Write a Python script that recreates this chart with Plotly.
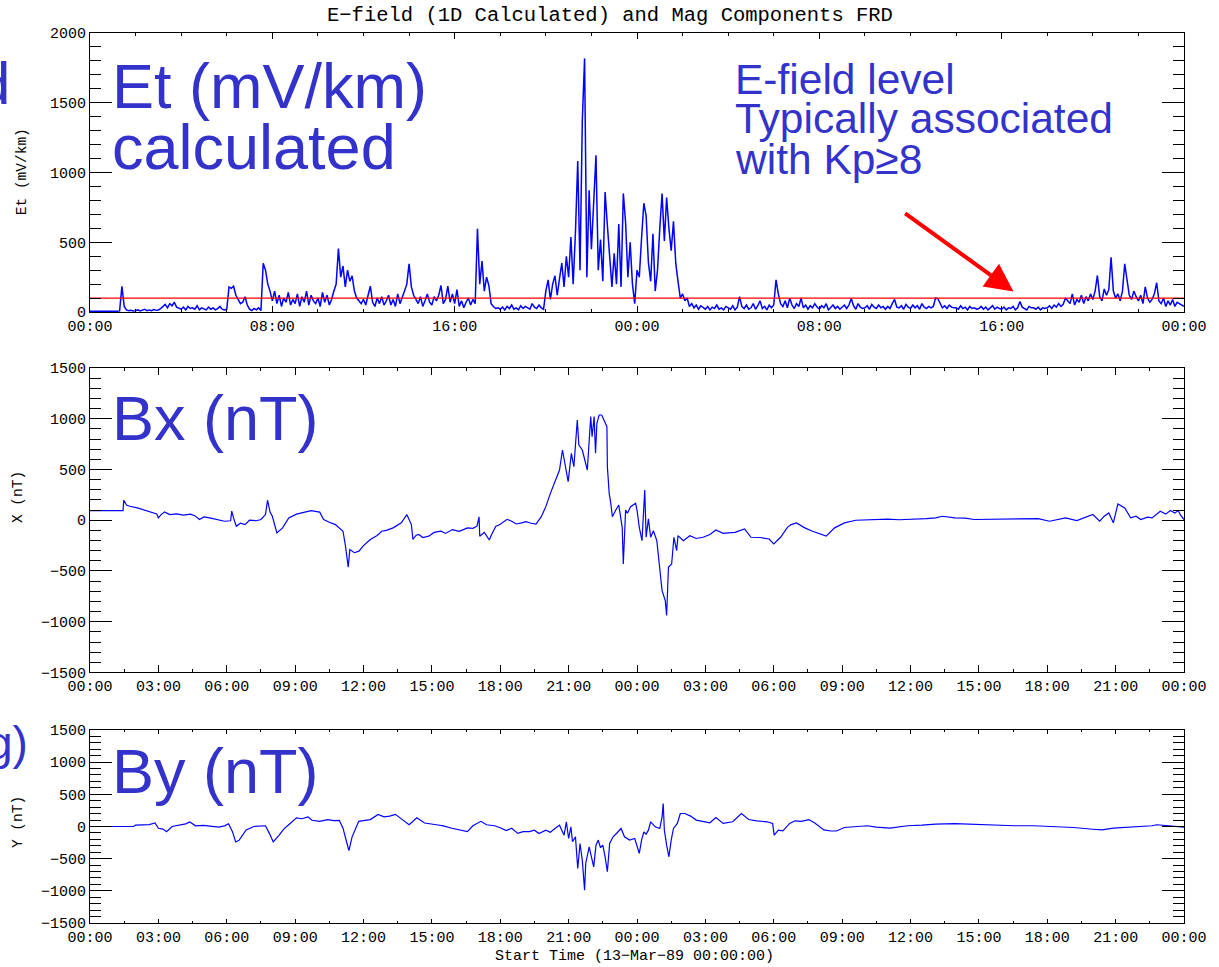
import numpy as np
import pandas as pd
import plotly.graph_objects as go

# ---------------- data ----------------
START = pd.Timestamp("1989-03-13 00:00:00")
SPAN_HOURS = 48

# Et (mV/km), one row per hour, 6-minute samples
et_step_hours = 0.1
et_values = [
    5, 4, 6, 5, 4, 5, 6, 5, 4, 5,            # 00h
    5, 5, 6, 8, 185, 40, 15, 10, 12, 8,      # 01h
    10, 15, 8, 12, 20, 10, 14, 9, 18, 12,    # 02h
    15, 25, 40, 55, 30, 60, 45, 70, 35, 25,  # 03h
    20, 35, 15, 40, 25, 30, 20, 45, 15, 30,  # 04h
    25, 15, 35, 20, 30, 15, 25, 40, 20, 15,  # 05h
    20, 180, 170, 185, 120, 90, 60, 70, 110, 50,  # 06h
    20, 10, 25, 15, 30, 10, 350, 300, 200, 150,   # 07h
    80, 150, 60, 120, 40, 100, 70, 140, 50, 90,   # 08h
    60, 130, 40, 110, 70, 150, 50, 120, 80, 60,   # 09h
    100, 40, 140, 70, 120, 50, 90, 150, 200, 455, # 10h
    250, 330, 180, 300, 220, 260, 150, 100, 80, 60,  # 11h
    90, 50, 120, 185, 70, 40, 100, 60, 110, 50,   # 12h
    80, 120, 50, 90, 40, 130, 60, 100, 150, 200,  # 13h
    345, 180, 120, 90, 60, 110, 40, 80, 130, 70,  # 14h
    50, 110, 80, 120, 190, 60, 90, 185, 70, 130,  # 15h
    60, 160, 40, 80, 30, 70, 100, 50, 90, 60,     # 16h
    597, 200, 365, 150, 250, 190, 60, 40, 25, 30, # 17h
    20, 35, 15, 40, 25, 50, 20, 30, 15, 45,       # 18h
    25, 40, 30, 20, 60, 35, 25, 50, 30, 20,       # 19h
    150, 230, 90, 200, 260, 120, 240, 350, 180, 400,       # 20h
    250, 537, 200, 573, 1083, 300, 1370, 1818, 250, 872,   # 21h
    450, 850, 1124, 300, 520, 220, 860, 620, 370, 180,     # 22h
    420, 200, 630, 180, 850, 640, 250, 500, 200, 60,       # 23h
    300, 250, 530, 780, 690, 355, 220, 560, 150, 300,      # 00h
    600, 850, 510, 820, 600, 440, 650, 350, 220, 100,      # 01h
    130, 80, 100, 40, 60, 30, 50, 20, 45, 30,     # 02h
    20, 40, 15, 35, 25, 50, 20, 30, 15, 40,       # 03h
    30, 20, 45, 15, 35, 110, 40, 25, 50, 20,      # 04h
    30, 60, 20, 45, 80, 25, 40, 15, 50, 30,       # 05h
    50, 230, 130, 60, 40, 80, 30, 100, 50, 25,    # 06h
    60, 40, 100, 30, 50, 20, 45, 30, 60, 35,      # 07h
    20, 45, 30, 60, 15, 35, 50, 25, 40, 20,       # 08h
    35, 50, 25, 50, 97, 45, 20, 60, 35, 25,       # 09h
    30, 45, 20, 55, 35, 25, 50, 30, 40, 20,       # 10h
    40, 25, 60, 90, 35, 30, 45, 20, 55, 35,       # 11h
    25, 50, 30, 45, 20, 60, 35, 25, 40, 30,       # 12h
    40, 100, 95, 60, 30, 45, 25, 50, 35, 30,      # 13h
    30, 20, 45, 25, 35, 15, 40, 25, 30, 20,       # 14h
    25, 40, 20, 35, 15, 30, 45, 20, 35, 25,       # 15h
    20, 35, 15, 30, 25, 40, 15, 30, 75, 35,       # 16h
    25, 15, 40, 30, 30, 20, 35, 15, 30, 25,       # 17h
    30, 45, 25, 50, 35, 60, 40, 55, 100, 80,      # 18h
    60, 130, 50, 90, 70, 120, 60, 110, 80, 130,   # 19h
    90, 150, 262, 110, 80, 165, 120, 160, 393, 150,  # 20h
    100, 130, 80, 150, 346, 230, 120, 90, 150, 110,  # 21h
    80, 120, 60, 180, 100, 70, 90, 130, 210, 80,     # 22h
    60, 100, 40, 80, 50, 90, 40, 70, 60, 50,         # 23h
    40,
]
red_level = 100

bx_hours = [0.0, 0.5, 1.0, 1.45, 1.48, 1.6, 1.74, 2.08, 2.4, 2.7, 2.93, 3.0, 3.1, 3.27, 3.5, 3.8,
            4.1, 4.4, 4.6, 4.8, 5.0, 5.3, 5.65, 5.9, 6.17, 6.22, 6.3, 6.42, 6.6, 6.8, 7.0, 7.3,
            7.5, 7.7, 7.79, 7.9, 8.0, 8.2, 8.45, 8.72, 9.06, 9.4, 9.7, 10.08, 10.25, 10.5, 10.77,
            11.1, 11.2, 11.33, 11.4, 11.6, 11.8, 12.0, 12.3, 12.6, 12.8, 13.0, 13.3, 13.66, 13.9,
            14.1, 14.17, 14.3, 14.43, 14.6, 14.86, 15.1, 15.4, 15.6, 15.9, 16.2, 16.56, 16.8,
            16.98, 17.07, 17.1, 17.3, 17.4, 17.52, 17.6, 17.8, 18.0, 18.3, 18.5, 18.7, 18.94,
            19.13, 19.35, 19.57, 19.8, 20.0, 20.2, 20.44, 20.6, 20.73, 20.83, 20.98, 21.12,
            21.23, 21.38, 21.45, 21.6, 21.68, 21.82, 21.97, 22.03, 22.12, 22.18, 22.24, 22.34,
            22.45, 22.56, 22.68, 22.7, 22.78, 22.85, 22.92, 23.07, 23.2, 23.35, 23.4, 23.5,
            23.58, 23.72, 23.94, 24.0, 24.1, 24.22, 24.34, 24.4, 24.5, 24.6, 24.72, 24.87, 25.0,
            25.1, 25.24, 25.3, 25.38, 25.52, 25.62, 25.74, 25.8, 26.03, 26.32, 26.6, 26.9, 27.2,
            27.46, 27.78, 28.0, 28.3, 28.72, 29.0, 29.4, 29.8, 30.0, 30.3, 30.6, 30.76, 31.0,
            31.36, 31.7, 32.0, 32.3, 32.67, 33.1, 33.6, 34.0, 34.5, 35.0, 35.5, 36.2, 36.7, 37.1,
            37.4, 37.95, 38.4, 38.8, 39.5, 40.0, 40.55, 41.0, 41.6, 42.1, 42.5, 42.8, 43.3, 43.7,
            44.0, 44.3, 44.5, 44.7, 44.9, 45.1, 45.4, 45.66, 45.9, 46.1, 46.4, 46.6, 46.96, 47.2,
            47.4, 47.6, 47.74, 47.85, 48.0]
bx_values = [95, 92, 95, 95, 197, 150, 138, 121, 100, 75, 62, 23, 50, 82, 55, 62,
             50, 60, 45, 7, 33, 20, 0, -10, -5, 89, 20, -59, -30, -43, 0, -5,
             7, 56, 197, 80, 39, -125, -75, 23, 60, 75, 95, 80, 7, -20, -43,
             -108, -240, -462, -289, -320, -305, -250, -190, -150, -108, -100, -75, -26, 56,
             -43, -190, -150, -141, -170, -157, -120, -108, -130, -92, -110, -75, -80,
             -59, 33, -157, -120, -157, -195, -150, -61, -40, 9, -10, -37, -26,
             -14, -30, -37, 35, 134, 265, 413, 495, 692, 561, 380, 659,
             528, 988, 741, 692, 626, 495, 1021, 823, 1021, 659, 955, 1037,
             1037, 988, 922, 528, 265, 167, 35, 101, 150, -70, -431, 101,
             68, 134, 167, 101, -70, -201, 298, -168, 13, -168, -103, -201, -463,
             -693, -791, -939, -463, -431, -168, -299, -152, -201, -152, -180, -168, -140,
             -96, -129, -125, -119, -86, -168, -170, -185, -234, -168, -70, -43, -26,
             -75, -108, -130, -157, -75, -26, 0, 5, 7, 10, 5, 7, 15, 23,
             39, 23, 20, 7, 10, 5, 7, 12, 16, -10, 10, 23, -3, 30,
             56, -10, 40, 72, -26, 161, 121, 23, 40, 7, 30, 23, 89, 60,
             95, 70, 95, 50, 7]

by_hours = [0.0, 1.9, 2.0, 2.3, 2.6, 2.85, 3.0, 3.2, 3.36, 3.6, 3.95, 4.2, 4.38, 4.63, 4.97, 5.3,
            5.65, 5.9, 6.08, 6.25, 6.39, 6.54, 6.7, 6.85, 7.19, 7.5, 7.7, 7.87, 8.04, 8.3, 8.5,
            8.72, 9.06, 9.3, 9.57, 9.74, 10.08, 10.43, 10.7, 10.94, 11.1, 11.28, 11.36, 11.5,
            11.79, 12.0, 12.3, 12.64, 12.9, 13.15, 13.4, 13.66, 14.0, 14.34, 14.5, 14.68, 15.2,
            15.5, 15.88, 16.2, 16.56, 16.8, 17.15, 17.4, 17.75, 18.0, 18.26, 18.5, 18.77, 19.0,
            19.28, 19.5, 19.7, 20.0, 20.2, 20.4, 20.6, 20.8, 20.9, 21.0, 21.1, 21.17, 21.3, 21.4,
            21.5, 21.6, 21.7, 21.75, 21.9, 22.0, 22.1, 22.2, 22.3, 22.4, 22.5, 22.6, 22.7, 22.8,
            22.95, 23.1, 23.3, 23.45, 23.55, 23.67, 23.9, 24.0, 24.1, 24.2, 24.3, 24.4, 24.5,
            24.6, 24.8, 25.0, 25.1, 25.15, 25.2, 25.3, 25.4, 25.5, 25.6, 25.77, 25.9, 26.1,
            26.35, 26.6, 26.9, 27.2, 27.46, 27.78, 28.2, 28.58, 28.9, 29.25, 29.7, 29.95, 30.02,
            30.2, 30.4, 30.7, 30.93, 31.2, 31.54, 31.8, 32.2, 32.5, 32.75, 33.1, 34.1, 34.5,
            35.1, 35.87, 36.5, 37.1, 37.95, 39.0, 40.55, 41.4, 42.3, 43.15, 44.0, 44.4, 44.9,
            45.75, 46.6, 46.8, 47.5, 48.0]
by_values = [0, 0, 20, 27, 30, 54, -27, -40, -80, 0, 27, 40, 70, 11, 16, 0,
             -11, 10, 43, -80, -241, -214, -120, -54, 0, 5, 11, -107, -241, -134, -40,
             27, 134, 120, 150, 96, 80, 107, 90, 96, -27, -268, -375, -161,
             80, 90, 107, 188, 150, 161, 188, 118, 27, 134, 90, 54, 27,
             10, -27, -50, -80, 11, 80, 27, 11, -20, -64, -28, -107, -80,
             -80, -57, -109, -57, -90, -31, 21, -135, 73, -187, -5, -238, -161, -653,
             -264, -523, -989, -575, -316, -471, -627, -290, -212, -330, -290, -471, -704, -264,
             -161, -109, -31, -161, -180, -212, -187, -290, -419, -212, -83, -120, -57,
             73, -5, -31, 150, 357, -57, -290, -471, -212, -31, 47, 202, 202,
             161, 99, 73, 57, 140, 47, 73, 202, 109, 88, 73, 47, -135,
             -57, -67, 47, 88, 80, 107, 54, -54, -70, -70, -16, 11, -11,
             -27, 11, 20, 38, 43, 27, 11, 11, 0, -16, -43, -54, -27,
             -11, 11, 27, 0, -11]

et_tick_hours = 8
mag_tick_hours = 3


def to_time(hours):
    return [START + pd.Timedelta(hours=float(h)) for h in hours]


et_hours = [i * et_step_hours for i in range(len(et_values))]

# ---------------- figure ----------------
BLUE = "#0000FF"
TXT = "rgb(51,51,204)"
MONO = "Liberation Mono"
SANS = "Liberation Sans, Arial, sans-serif"

fig = go.Figure()
fig.add_trace(go.Scatter(x=to_time(et_hours), y=et_values, mode="lines",
                         line=dict(color=BLUE, width=1.5), xaxis="x", yaxis="y",
                         showlegend=False))
fig.add_trace(go.Scatter(x=to_time([0, SPAN_HOURS]), y=[red_level, red_level], mode="lines",
                         line=dict(color="#FF0000", width=1.3), xaxis="x", yaxis="y",
                         showlegend=False))
fig.add_trace(go.Scatter(x=to_time(bx_hours), y=bx_values, mode="lines",
                         line=dict(color=BLUE, width=1.2), xaxis="x2", yaxis="y2",
                         showlegend=False))
fig.add_trace(go.Scatter(x=to_time(by_hours), y=by_values, mode="lines",
                         line=dict(color=BLUE, width=1.2), xaxis="x3", yaxis="y3",
                         showlegend=False))

t0 = START
t1 = START + pd.Timedelta(hours=SPAN_HOURS)
HOUR_MS = 3600 * 1000


def xaxis(anchor, dtick_h, minor_h, ticklen):
    return dict(type="date", range=[t0, t1], anchor=anchor, tickformat="%H:%M",
                tick0=t0, dtick=dtick_h * HOUR_MS, ticks="inside", ticklen=ticklen,
                tickwidth=1, tickcolor="black", showline=True, linecolor="black",
                linewidth=1, mirror="allticks", showgrid=False, zeroline=False,
                tickfont=dict(family=MONO, size=15, color="black"),
                minor=dict(dtick=minor_h * HOUR_MS, tick0=t0, ticks="inside",
                           ticklen=ticklen / 2, tickcolor="black", showgrid=False),
                domain=[0, 1])


def yaxis(anchor, rng, domain):
    return dict(range=rng, anchor=anchor, domain=domain, dtick=500, tick0=0,
                ticks="inside", ticklen=22, tickwidth=1, tickcolor="black",
                showline=True, linecolor="black", linewidth=1, mirror="allticks",
                showgrid=False, zeroline=False,
                tickfont=dict(family=MONO, size=15, color="black"),
                minor=dict(dtick=100, ticks="inside", ticklen=11, tickcolor="black",
                           showgrid=False))


fig.update_layout(
    width=1219, height=967,
    margin=dict(l=90, r=33, t=33, b=44),
    paper_bgcolor="white", plot_bgcolor="white",
    xaxis=xaxis("y", et_tick_hours, 2, 6),
    yaxis=yaxis("x", [0, 2000], [0.6865, 1.0]),
    xaxis2=xaxis("y2", mag_tick_hours, 1.5, 7),
    yaxis2=yaxis("x2", [-1500, 1500], [0.2815, 0.6236]),
    xaxis3=xaxis("y3", mag_tick_hours, 1.5, 4),
    yaxis3=yaxis("x3", [-1500, 1500], [0.0, 0.2169]),
)

ann = []
def txt(text, x, y, size, family, color, xanchor="center", angle=0):
    ann.append(dict(text=text, x=x, y=y, xref="paper", yref="paper", showarrow=False,
                    xanchor=xanchor, yanchor="middle", textangle=angle,
                    font=dict(family=family, size=size, color=color)))

txt("E\u2212field (1D Calculated) and Mag Components FRD", 0.4754, 1.0202, 20.5, MONO, "black")
txt("Start Time (13\u2212Mar\u221289 00:00:00)", 0.498, -0.0382, 15, MONO, "black")
txt("Et (mV/km)", -0.062, 0.8438, 14.5, MONO, "black", angle=-90)
txt("X (nT)", -0.0657, 0.4787, 14.5, MONO, "black", angle=-90)
txt("Y (nT)", -0.0657, 0.1135, 14.5, MONO, "black", angle=-90)

txt("Et (mV/km)", 0.018, 0.9404, 63, SANS, TXT, xanchor="left")
txt("calculated", 0.018, 0.8719, 63, SANS, TXT, xanchor="left")
txt("d", -0.0712, 0.9427, 60, SANS, TXT, xanchor="right")
txt("E-field level", 0.5876, 0.9483, 42.5, SANS, TXT, xanchor="left")
txt("Typically associated", 0.5876, 0.9034, 42.5, SANS, TXT, xanchor="left")
txt("with Kp\u22658", 0.5876, 0.8584, 42.5, SANS, TXT, xanchor="left")
txt("Bx (nT)", 0.018, 0.5674, 63, SANS, TXT, xanchor="left")
txt("By (nT)", 0.018, 0.1708, 63, SANS, TXT, xanchor="left")
txt("g)", -0.0547, 0.2022, 46, SANS, TXT, xanchor="right")

ann.append(dict(x=START + pd.Timedelta(hours=40.52), y=147, xref="x", yref="y",
                ax=START + pd.Timedelta(hours=35.70), ay=714, axref="x", ayref="y",
                showarrow=True, arrowhead=2, arrowsize=1.4, arrowwidth=4,
                arrowcolor="#FF0000", text="", standoff=0, startstandoff=0))

fig.update_layout(annotations=ann)

fig.write_html("out.html", config={"displayModeBar": False},
               post_script="document.body.style.margin='0';")
